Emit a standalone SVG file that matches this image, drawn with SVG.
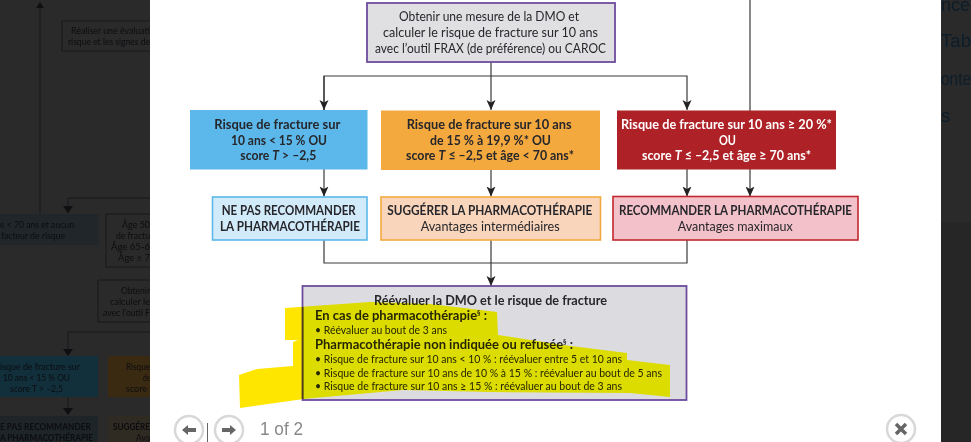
<svg xmlns="http://www.w3.org/2000/svg" width="971" height="442" viewBox="0 0 971 442">
<style>
text{font-family:"Lato","Noto Sans","Liberation Sans",sans-serif;fill:#26262b;text-anchor:start;font-size:13px}
.b{font-weight:700;font-size:13.400px}
.s{font-size:11.200px}
.w{fill:#fff}
.c{fill:none;stroke:#3a3a3a;stroke-width:1.2}
.d{fill:none;stroke:#17181c;stroke-width:1}
.dt{fill:#0c0d10;font-size:9.5px}
.da{fill:#0f0f12}
.dr{font-family:"Liberation Sans",sans-serif;font-size:18.500px;fill:#0d1d2a}
.n{fill:#fff;stroke:#d8d8d8;stroke-width:2.5}
.g{fill:#666}
</style>
<defs>
<marker id="a" markerUnits="userSpaceOnUse" markerWidth="12" markerHeight="10" refX="10" refY="5" orient="auto"><path d="M0 0.500L10 5L0 9.500L2.500 5Z" fill="#222"/></marker>
<clipPath id="boxclip"><rect x="302" y="286" width="385" height="114"/></clipPath>
<clipPath id="outclip"><path d="M230 280H302V420H230Z"/></clipPath>
<path id="hl" d="M285 308L300 307L370 302L430 304L497 312L498 335L563 345L627 353L627 360L670 365L670 397L630 393L490 392L403 390L303 399L240 408L239 375L257 369L293 366L293 342L298 340L285 340Z"/>
</defs>
<rect width="971" height="442" fill="#2a2a2a"/>
<rect x="941" y="222" width="30" height="220" fill="#262626"/>
<g id="background">
<path class="d" d="M40 214V5"/><path class="da" d="M36 8L40 2L44 8Z"/>
<path class="d" d="M150 21H62V51H150"/>
<text class="dt" x="71" y="34" textLength="79" lengthAdjust="spacingAndGlyphs">Réaliser une évaluati</text>
<text class="dt" x="68" y="45" textLength="82" lengthAdjust="spacingAndGlyphs">risque et les signes de</text>
<path class="d" d="M68 213V198H150"/><path class="da" d="M63 206L68 213L73 206Z"/>
<rect x="0" y="214" width="99" height="31" fill="#20262a"/>
<text class="dt" x="0" y="228" textLength="74" lengthAdjust="spacingAndGlyphs">e &lt; 70 ans et aucun</text>
<text class="dt" x="1" y="239" textLength="64" lengthAdjust="spacingAndGlyphs">facteur de risque</text>
<path class="d" d="M150 214H106V267H150"/>
<text class="dt" x="122" y="228" textLength="28" lengthAdjust="spacingAndGlyphs">Âge 50</text>
<text class="dt" x="116" y="239" textLength="34" lengthAdjust="spacingAndGlyphs">de fractu</text>
<text class="dt" x="111" y="250" textLength="39" lengthAdjust="spacingAndGlyphs">Âge 65-6</text>
<text class="dt" x="118" y="261" textLength="32" lengthAdjust="spacingAndGlyphs">Âge ≥ 7</text>
<path class="d" d="M150 280H98V322H150"/>
<text class="dt" x="121" y="294" textLength="29" lengthAdjust="spacingAndGlyphs">Obtenir</text>
<text class="dt" x="110" y="305" textLength="40" lengthAdjust="spacingAndGlyphs">calculer le</text>
<text class="dt" x="103" y="316" textLength="47" lengthAdjust="spacingAndGlyphs">avec l’outil F</text>
<path class="d" d="M68 354V332H150"/><path class="da" d="M63 349L68 356L73 349Z"/>
<rect x="0" y="356" width="98" height="41" fill="#122f3c"/>
<text class="dt" x="0" y="370" textLength="80" lengthAdjust="spacingAndGlyphs">isque de fracture sur</text>
<text class="dt" x="3" y="381" textLength="67" lengthAdjust="spacingAndGlyphs">10 ans &lt; 15 % OU</text>
<text class="dt" x="10" y="392" textLength="53" lengthAdjust="spacingAndGlyphs">score T &gt; –2,5</text>
<rect x="108" y="356" width="42" height="41" fill="#3b2a12"/>
<text class="dt" x="126" y="370" textLength="24" lengthAdjust="spacingAndGlyphs">Risque</text>
<text class="dt" x="143" y="381" textLength="7" lengthAdjust="spacingAndGlyphs">de</text>
<text class="dt" x="126" y="392" textLength="21" lengthAdjust="spacingAndGlyphs">score</text>
<path class="d" d="M68 397V414"/><path class="da" d="M63 408L68 415L73 408Z"/>
<rect x="0" y="416" width="98" height="26" fill="#1e2529"/>
<text class="dt" x="0" y="430" font-weight="700" textLength="91" lengthAdjust="spacingAndGlyphs">E PAS RECOMMANDER</text>
<text class="dt" x="0" y="441" font-weight="700" textLength="93" lengthAdjust="spacingAndGlyphs">A PHARMACOTHÉRAPIE</text>
<rect x="108" y="416" width="42" height="26" fill="#2f2a22"/>
<text class="dt" x="113" y="430" font-weight="700" textLength="37" lengthAdjust="spacingAndGlyphs">SUGGÉRE</text>
<text class="dt" x="136" y="441" textLength="14" lengthAdjust="spacingAndGlyphs">Ava</text>
</g>
<g id="side">
<text class="dr" x="941" y="10.500" textLength="29" lengthAdjust="spacingAndGlyphs">nce</text>
<text class="dr" x="941" y="47" textLength="30" lengthAdjust="spacingAndGlyphs">Tab</text>
<text class="dr" x="941" y="85" textLength="30" lengthAdjust="spacingAndGlyphs">onte</text>
<text class="dr" x="941" y="122">s</text>
</g>
<rect x="150" width="791" height="442" fill="#fff"/>
<g id="connectors">
<path class="c" d="M750 0V196.500" marker-end="url(#a)"/>
<path class="c" d="M491 62V110" marker-end="url(#a)"/>
<path class="c" d="M324 110V76H687V110" marker-end="url(#a)"/>
<path class="c" d="M324 76V110" marker-end="url(#a)"/>
<path class="c" d="M324 169V196.500" marker-end="url(#a)"/>
<path class="c" d="M491 170V196.500" marker-end="url(#a)"/>
<path class="c" d="M687 169V196.500" marker-end="url(#a)"/>
<path class="c" d="M324 240V263H687V240"/>
<path class="c" d="M491 240V286" marker-end="url(#a)"/>
</g>
<g id="n-mesure">
<rect x="367" y="3" width="248" height="59" fill="#e0e0e3" stroke="#6d4c9e" stroke-width="1.8"/>
<text x="399" y="20.500" textLength="180" lengthAdjust="spacingAndGlyphs">Obtenir une mesure de la DMO et</text>
<text x="383" y="36.500" textLength="215" lengthAdjust="spacingAndGlyphs">calculer le risque de fracture sur 10 ans</text>
<text x="375" y="52.500" textLength="231" lengthAdjust="spacingAndGlyphs">avec l’outil FRAX (de préférence) ou CAROC</text>
</g>
<g id="n-faible">
<rect x="190" y="110" width="177.500" height="59.500" fill="#5cb8ea"/>
<text class="b" x="214.300" y="128.500" textLength="126" lengthAdjust="spacingAndGlyphs">Risque de fracture sur</text>
<text class="b" x="231" y="144.500" textLength="96" lengthAdjust="spacingAndGlyphs">10 ans &lt; 15 % OU</text>
<text class="b" x="240.300" y="160" textLength="76" lengthAdjust="spacingAndGlyphs">score <tspan font-style="italic">T</tspan> &gt; –2,5</text>
</g>
<g id="n-moyen">
<rect x="381" y="110.500" width="219" height="59.500" fill="#f4a93f"/>
<text class="b" x="406.700" y="128.500" textLength="165" lengthAdjust="spacingAndGlyphs">Risque de fracture sur 10 ans</text>
<text class="b" x="430" y="144.500" textLength="121" lengthAdjust="spacingAndGlyphs">de 15 % à 19,9 %* OU</text>
<text class="b" x="406" y="160" textLength="168" lengthAdjust="spacingAndGlyphs">score <tspan font-style="italic">T</tspan> ≤ –2,5 et âge &lt; 70 ans*</text>
</g>
<g id="n-eleve">
<rect x="617" y="110.500" width="219" height="59" fill="#ae2227"/>
<text class="b w" x="621" y="128.500" textLength="211" lengthAdjust="spacingAndGlyphs">Risque de fracture sur 10 ans ≥ 20 %*</text>
<text class="b w" x="719" y="144.500" textLength="17" lengthAdjust="spacingAndGlyphs">OU</text>
<text class="b w" x="642" y="160" textLength="169" lengthAdjust="spacingAndGlyphs">score <tspan font-style="italic">T</tspan> ≤ –2,5 et âge ≥ 70 ans*</text>
</g>
<g id="n-ne-pas">
<rect x="212.500" y="197" width="154.500" height="43" fill="#d2ebfa" stroke="#5cb8ea" stroke-width="1.6"/>
<text class="b" x="221.700" y="215" textLength="134" lengthAdjust="spacingAndGlyphs">NE PAS RECOMMANDER</text>
<text class="b" x="220" y="231" textLength="140" lengthAdjust="spacingAndGlyphs">LA PHARMACOTHÉRAPIE</text>
</g>
<g id="n-suggerer">
<rect x="381" y="197" width="219.500" height="43" fill="#f8d5bb" stroke="#f4a93f" stroke-width="1.6"/>
<text class="b" x="387.300" y="215" textLength="205" lengthAdjust="spacingAndGlyphs">SUGGÉRER LA PHARMACOTHÉRAPIE</text>
<text x="420.700" y="231" textLength="139" lengthAdjust="spacingAndGlyphs">Avantages intermédiaires</text>
</g>
<g id="n-recommander">
<rect x="613" y="196.500" width="245" height="43.500" fill="#f3c1ca" stroke="#c1272d" stroke-width="1.6"/>
<text class="b" x="619" y="215" textLength="233" lengthAdjust="spacingAndGlyphs">RECOMMANDER LA PHARMACOTHÉRAPIE</text>
<text x="677.700" y="231" textLength="115" lengthAdjust="spacingAndGlyphs">Avantages maximaux</text>
</g>
<g id="n-reevaluer">
<rect x="302.500" y="286" width="384" height="114" fill="#dcdce0" stroke="#6d4c9e" stroke-width="1.8"/>
<text class="b" x="374" y="304.500" textLength="233" lengthAdjust="spacingAndGlyphs">Réévaluer la DMO et le risque de fracture</text>
<text class="b" x="315" y="320" textLength="172" lengthAdjust="spacingAndGlyphs">En cas de pharmacothérapie<tspan font-size="7" dy="-4">§</tspan><tspan dy="4"> :</tspan></text>
<text class="s" x="315" y="333.500" textLength="132" lengthAdjust="spacingAndGlyphs">• Réévaluer au bout de 3 ans</text>
<text class="b" x="315" y="349" textLength="258" lengthAdjust="spacingAndGlyphs">Pharmacothérapie non indiquée ou refusée<tspan font-size="7" dy="-4">§</tspan><tspan dy="4"> :</tspan></text>
<text class="s" x="315" y="363" textLength="307" lengthAdjust="spacingAndGlyphs">• Risque de fracture sur 10 ans &lt; 10 % : réévaluer entre 5 et 10 ans</text>
<text class="s" x="315" y="376.500" textLength="347" lengthAdjust="spacingAndGlyphs">• Risque de fracture sur 10 ans de 10 % à 15 % : réévaluer au bout de 5 ans</text>
<text class="s" x="315" y="390" textLength="307" lengthAdjust="spacingAndGlyphs">• Risque de fracture sur 10 ans ≥ 15 % : réévaluer au bout de 3 ans</text>
</g>
<g id="highlight">
<use href="#hl" fill="#ffe600" clip-path="url(#outclip)"/>
<use href="#hl" fill="#ffff00" clip-path="url(#boxclip)" style="mix-blend-mode:multiply"/>
<path d="M302.500 307V399" fill="none" stroke="#4a3c20" stroke-width="1.800"/>
</g>
<g id="controls">
<circle class="n" cx="189" cy="430" r="14"/>
<path class="g" d="M182 430L188 425V428H196V432H188V435Z"/>
<path d="M207.500 423V442" stroke="#666" stroke-width="1"/>
<circle class="n" cx="229" cy="430" r="14"/>
<path class="g" d="M236 430L230 425V428H222V432H230V435Z"/>
<text x="260" y="435" textLength="43" lengthAdjust="spacingAndGlyphs" style="font-family:'Liberation Sans',sans-serif;font-size:18px;fill:#888">1 of 2</text>
<circle class="n" cx="901" cy="429" r="14"/>
<path d="M896 424L906 434M906 424L896 434" stroke="#666" stroke-width="3.500"/>
</g>
</svg>
